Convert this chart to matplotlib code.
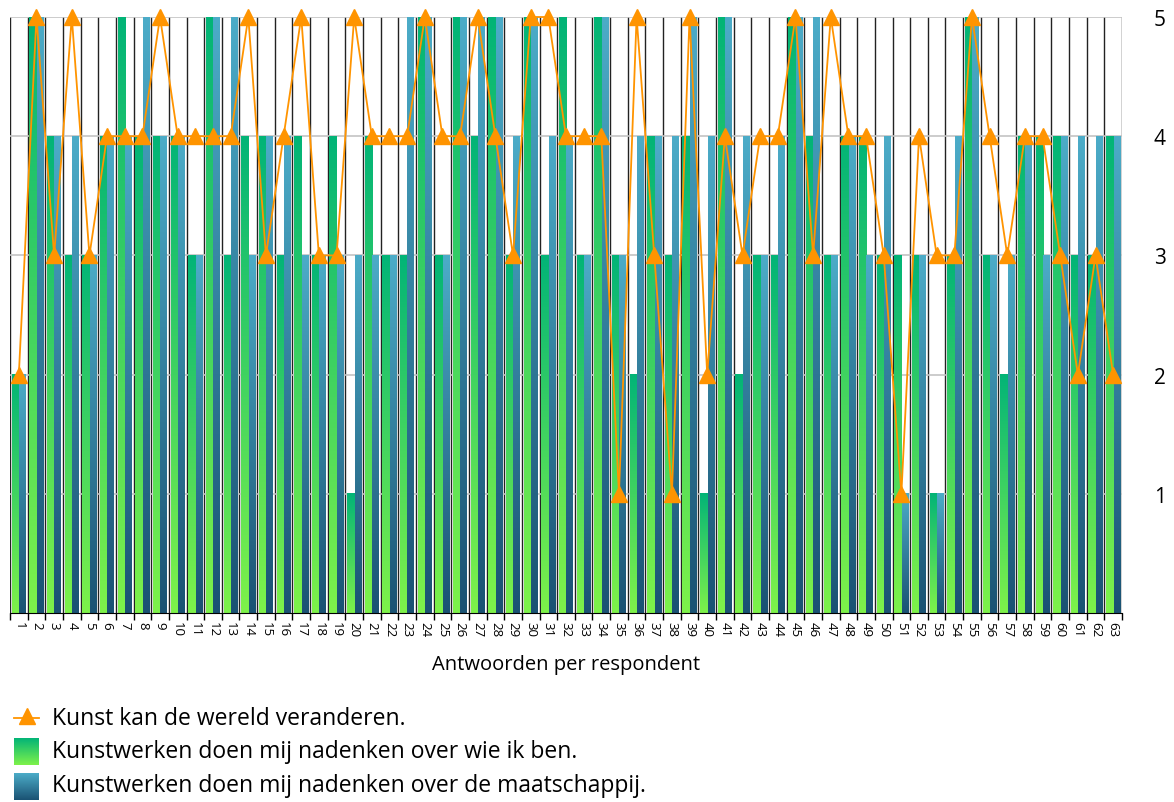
import numpy as np
import matplotlib.pyplot as plt
from matplotlib.colors import LinearSegmentedColormap

plt.rcParams['font.family'] = ['Open Sans', 'DejaVu Sans']

respondents = [str(i) for i in range(1, 64)]

# Kunst kan de wereld veranderen.
wereld = [2, 5, 3, 5, 3, 4, 4, 4, 5, 4, 4, 4, 4, 5, 3, 4, 5, 3, 3, 5, 4,
          4, 4, 5, 4, 4, 5, 4, 3, 5, 5, 4, 4, 4, 1, 5, 3, 1, 5, 2, 4, 3,
          4, 4, 5, 3, 5, 4, 4, 3, 1, 4, 3, 3, 5, 4, 3, 4, 4, 3, 2, 3, 2]
# Kunstwerken doen mij nadenken over wie ik ben.
wie_ik_ben = [2, 5, 4, 3, 3, 4, 5, 4, 4, 4, 3, 5, 3, 4, 4, 3, 4, 3, 4, 1, 4,
              3, 3, 5, 3, 5, 4, 5, 3, 5, 3, 5, 3, 5, 3, 2, 4, 3, 4, 1, 5, 2,
              3, 3, 5, 4, 3, 4, 4, 3, 3, 3, 1, 3, 5, 3, 2, 4, 4, 4, 3, 3, 4]
# Kunstwerken doen mij nadenken over de maatschappij.
maatschappij = [2, 5, 4, 4, 3, 4, 4, 5, 4, 4, 3, 5, 5, 3, 4, 4, 3, 3, 3, 3, 3,
                3, 5, 5, 3, 5, 5, 5, 4, 5, 4, 4, 3, 5, 3, 4, 4, 4, 5, 4, 5, 4,
                3, 4, 5, 5, 3, 4, 3, 4, 1, 3, 1, 4, 5, 3, 3, 4, 3, 4, 4, 4, 4]

green_cmap = LinearSegmentedColormap.from_list('groen', ['#7ef24a', '#02b477'])
blue_cmap = LinearSegmentedColormap.from_list('blauw', ['#1a5273', '#4cacc8'])
grad = np.linspace(0, 1, 256).reshape(-1, 1)

fig = plt.figure(figsize=(11.74, 8.03), dpi=100)
ax = fig.add_axes([10 / 1174, 1 - 614 / 803, 1112 / 1174, 596 / 803])

x = np.arange(len(respondents))


def gradient_bar(xl, xr, h, cmap):
    ax.imshow(grad, extent=[xl, xr, 0, h], origin='lower', aspect='auto',
              cmap=cmap, interpolation='bilinear', zorder=2)


for xi, g, b in zip(x, wie_ik_ben, maatschappij):
    gradient_bar(xi - 0.40, xi + 0.02, g, green_cmap)
    gradient_bar(xi + 0.02, xi + 0.38, b, blue_cmap)

ax.plot(x, wereld, color='#ff9400', lw=1.3, marker='^', ms=11,
        clip_on=False, zorder=5)

ax.set_xlim(-0.5, len(respondents) - 0.5)
ax.set_ylim(0, 5)

ax.set_xticks(x, respondents, rotation=270, fontsize=9.5)
ax.tick_params(axis='x', which='major', length=0, pad=6)
ax.set_xticks(np.arange(-0.5, len(respondents)), minor=True)
ax.tick_params(axis='x', which='minor', length=5, width=1, color='black')
ax.grid(axis='x', which='minor', color='#222222', lw=1, zorder=1)

ax.set_yticks([1, 2, 3, 4, 5])
ax.yaxis.tick_right()
ax.tick_params(axis='y', length=0, pad=23, labelsize=15)
ax.grid(axis='y', which='major', color='#c4c4c4', lw=1.2, zorder=1)
ax.set_axisbelow(True)

for side in ['top', 'left', 'right']:
    ax.spines[side].set_visible(False)
ax.spines['bottom'].set_color('black')

fig.text(566 / 1174, 1 - 665 / 803, 'Antwoorden per respondent',
         ha='center', va='center', fontsize=14.5)

# legend drawn by hand so the swatches can carry the gradients
W, H = 1174, 803
leg = fig.add_axes([0, 0, 1, 1], zorder=-1)
leg.axis('off')
leg.plot([14, 39], [719, 719], color='#ff9400', lw=1.3)
leg.plot([26.5], [717], marker='^', ms=11, color='#ff9400')
leg.imshow(grad, extent=[14, 39, 766, 739], origin='lower', aspect='auto',
           cmap=green_cmap, interpolation='bilinear')
leg.imshow(grad, extent=[14, 39, 801, 774], origin='lower', aspect='auto',
           cmap=blue_cmap, interpolation='bilinear')
leg.set_xlim(0, W)
leg.set_ylim(H, 0)

labels = ['Kunst kan de wereld veranderen.',
          'Kunstwerken doen mij nadenken over wie ik ben.',
          'Kunstwerken doen mij nadenken over de maatschappij.']
for yy, lab in zip([719, 752, 786], labels):
    leg.text(52, yy, lab, ha='left', va='center', fontsize=16.5)

fig.savefig('out.png', dpi=100)
